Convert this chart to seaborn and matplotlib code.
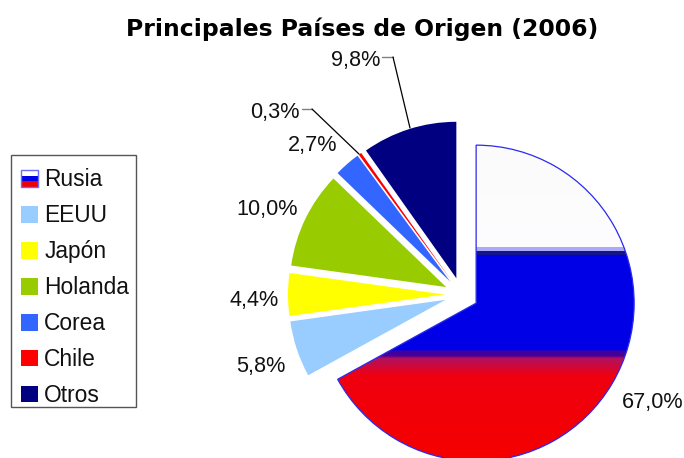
import matplotlib
matplotlib.use("Agg")
import matplotlib.pyplot as plt
import numpy as np
import seaborn as sns
from matplotlib.colors import to_rgb
from matplotlib.legend_handler import HandlerBase
from matplotlib.patches import Rectangle

categories = ["Rusia", "EEUU", "Japón", "Holanda", "Corea", "Chile", "Otros"]
shares = [67.0, 5.8, 4.4, 10.0, 2.7, 0.3, 9.8]
colors = ["#0000e6", "#99ccff", "#ffff00", "#99cc00", "#3366ff", "#ff0000", "#000080"]
title = "Principales Países de Origen (2006)"

# the axes use the picture's pixel grid, y measured from the bottom
WIDTH, HEIGHT = 684, 458
CENTER = (461.5, HEIGHT - 294.5)
RADIUS = 158
SMALL_RADIUS = 156.5
EXPLODE = 17

label_pos = [(653, 402.5), (261, 366.5), (254, 300.5), (267, 209.5), (313, 145.5), (275, 112.5), (356, 60.5)]
leaders = [
    [(382, 57), (393, 57), (410, 128)],
    [(302, 109), (312, 109), (359, 154)],
]

# vertical colouring of the Russia slice: picture row -> colour
flag_rows = [144, 246.5, 247, 250, 250.5, 254, 255, 349, 351, 355, 358, 375, 458]
flag_cols = ["#fbfbfb", "#fdfdff", "#aaaaf5", "#aaaaf5", "#14148c", "#14148c", "#0000e6",
             "#0000e6", "#44009a", "#44009a", "#b01060", "#f00010", "#f50000"]


class FlagHandler(HandlerBase):
    def create_artists(self, legend, orig_handle, xdescent, ydescent, width, height, fontsize, trans):
        third = height / 3
        bands = [
            Rectangle((-xdescent, -ydescent + 2 * third), width, third, fc="white", ec="none"),
            Rectangle((-xdescent, -ydescent + third), width, third, fc="#0000e6", ec="none"),
            Rectangle((-xdescent, -ydescent), width, third, fc="#f00000", ec="none"),
            Rectangle((-xdescent, -ydescent), width, height, fc="none", ec="#6a6aff", lw=1),
        ]
        for band in bands:
            band.set_transform(trans)
        return bands


def flag_image():
    rows = np.arange(144, 459)
    rgb = np.array([to_rgb(c) for c in flag_cols])
    channels = [np.interp(rows, flag_rows, rgb[:, i]) for i in range(3)]
    return np.stack(channels, axis=1)[:, np.newaxis, :]


def main():
    sns.set_theme(style="white")
    plt.rcParams["font.family"] = ["Liberation Sans", "DejaVu Sans"]

    fig = plt.figure(figsize=(WIDTH / 100, HEIGHT / 100), dpi=100)
    ax = fig.add_axes([0, 0, 1, 1])

    wedges, _ = ax.pie(
        shares,
        colors=colors,
        explode=[EXPLODE] * len(shares),
        center=CENTER,
        radius=RADIUS,
        startangle=90,
        counterclock=False,
        wedgeprops={"linewidth": 0, "edgecolor": "none"},
    )
    for wedge in wedges[1:]:
        wedge.set_radius(SMALL_RADIUS)

    # Russia slice gets the flag gradient clipped to its wedge
    russia = wedges[0]
    russia.set_facecolor("none")
    russia.set_edgecolor("#2a2af0")
    russia.set_linewidth(0.9)
    russia.set_zorder(3)
    image = ax.imshow(
        flag_image(),
        extent=(300, 650, HEIGHT - 459, HEIGHT - 144),
        origin="upper",
        aspect="auto",
        interpolation="nearest",
        zorder=2,
    )
    image.set_clip_path(russia)

    ax.set_xlim(0, WIDTH)
    ax.set_ylim(0, HEIGHT)
    ax.set_aspect("equal")
    ax.axis("off")

    for value, (px, py) in zip(shares, label_pos):
        text = f"{value:.1f}%".replace(".", ",")
        ax.text(px, HEIGHT - py, text, ha="center", va="center", fontsize=15.6, color="#111111")

    for points in leaders:
        (x0, y0), (x1, y1), (x2, y2) = points
        ax.plot([x0, x1], [HEIGHT - y0, HEIGHT - y1], color="#808080", lw=1, zorder=4)
        ax.plot([x1, x2], [HEIGHT - y1, HEIGHT - y2], color="black", lw=0.9, zorder=4)

    ax.text(362, HEIGHT - 29, title, ha="center", va="center", fontsize=16.9,
            fontweight="bold", family="DejaVu Sans", color="black")

    # legend box is drawn apart, its padding is uneven in the original
    ax.add_patch(Rectangle((11, HEIGHT - 407), 125, 252, fc="white", ec="#555555", lw=1, zorder=5))
    legend = ax.legend(
        wedges,
        categories,
        handler_map={wedges[0]: FlagHandler()},
        loc="upper left",
        bbox_to_anchor=(11, HEIGHT - 158),
        bbox_transform=ax.transData,
        fontsize=16.4,
        handlelength=0.74,
        handleheight=0.74,
        handletextpad=0.27,
        labelspacing=0.57,
        borderpad=0.45,
        borderaxespad=0,
        frameon=False,
    )
    legend.set_zorder(6)
    for text in legend.get_texts():
        text.set_color("#111111")

    fig.savefig("out.png", dpi=100)


if __name__ == "__main__":
    main()
